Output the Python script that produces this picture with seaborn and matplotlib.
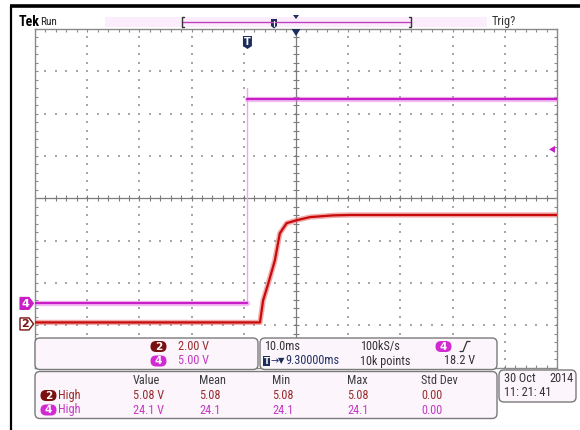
import numpy as np
import pandas as pd
import matplotlib
matplotlib.use("Agg")
import matplotlib.pyplot as plt
import matplotlib.patheffects as pe
from matplotlib.patches import FancyBboxPatch, Polygon, Rectangle
import seaborn as sns

# ---------------- acquisition settings ----------------
time_per_div = 10.0        # ms / div
trigger_delay = 9.30       # ms from trigger to screen centre
ch2_scale = 2.00           # V / div
ch4_scale = 5.00           # V / div
ch2_ground_div = -2.935    # CH2 ground reference, divisions from centre
ch4_ground_div = -2.485    # CH4 ground reference, divisions from centre
trigger_level = 18.2       # V, rising edge on CH4
sample_rate = "100kS/s"
record_length = "10k points"
date_text = "30 Oct"
year_text = "2014"
time_text = "11: 21: 41"

# ---------------- waveforms (ms from trigger, volts) ----------------
ch4_time = [-40.7, 0.0, 0.0, 59.3]
ch4_volts = [0.0, 0.0, 24.1, 24.1]
ch4_segment = [0, 0, 1, 1]
ch4_edge_peak = 25.4

ch2_time = [-40.7, 2.4, 3.0, 4.0, 5.25, 6.2, 7.5, 9.4, 12.0, 16.4, 19.6, 59.3]
ch2_volts = [0.0, 0.0, 1.04, 1.85, 2.93, 4.21, 4.69, 4.83, 4.98, 5.06, 5.08, 5.08]

# ---------------- measurements ----------------
meas_headers = ["Value", "Mean", "Min", "Max", "Std Dev"]
ch2_high = [5.08, 5.08, 5.08, 5.08, 0.00]
ch4_high = [24.1, 24.1, 24.1, 24.1, 0.00]

# ---------------- colours ----------------
MAGENTA = "#c81ec8"
MAGENTA_LIGHT = "#e67ae6"
RED = "#c80a0a"
RED_LIGHT = "#e45a5a"
MAROON = "#7a1010"
NAVY = "#1c2d5e"
GRID = "#a8a8a8"
FRAME = "#8a8a8a"
PANEL = "#fcf5fc"

sns.set_theme(style="white")
FONTS = ["Liberation Sans Narrow", "Roboto Condensed", "Liberation Sans", "DejaVu Sans"]
plt.rcParams["font.family"] = FONTS

W, H = 580, 430
fig = plt.figure(figsize=(W / 100, H / 100), dpi=100)
fig.patch.set_facecolor("white")

# graticule placement (pixels)
GX0, GX1, GY0, GY1 = 35, 557, 29, 367.5
ax = fig.add_axes([GX0 / W, 1 - GY1 / H, (GX1 - GX0) / W, (GY1 - GY0) / H])
t_lo = trigger_delay - 5 * time_per_div
t_hi = trigger_delay + 5 * time_per_div
ax.set_xlim(t_lo, t_hi)
ax.set_ylim(-4, 4)
ax.set_xticks([])
ax.set_yticks([])
ax.set_facecolor("white")
for s in ax.spines.values():
    s.set_color(FRAME)
    s.set_linewidth(1.0)

px_x = (GX1 - GX0) / 10.0      # pixels per horizontal division
px_y = (GY1 - GY0) / 8.0       # pixels per vertical division
tick_t = 3.0 / px_x * time_per_div
tick_v = 3.0 / px_y

minor_t = t_lo + np.arange(0, 51) * time_per_div / 5
minor_v = -4 + np.arange(0, 41) / 5
major_t = t_lo + np.arange(1, 10) * time_per_div
major_v = np.arange(-3, 4)

# dotted division lines
for mt in major_t:
    if abs(mt - trigger_delay) > 1e-6:
        ax.scatter(np.full(minor_v.size, mt), minor_v, s=0.7, marker="s",
                   color=GRID, linewidths=0, zorder=1)
for mv in major_v:
    if mv != 0:
        ax.scatter(minor_t, np.full(minor_t.size, mv), s=0.7, marker="s",
                   color=GRID, linewidths=0, zorder=1)

# centre cross with minor ticks
ax.axvline(trigger_delay, color="#7c7c7c", lw=0.9, zorder=1)
ax.axhline(0, color="#7c7c7c", lw=0.9, zorder=1)
ax.vlines(minor_t, -tick_v, tick_v, color="#7c7c7c", lw=0.8, zorder=1)
ax.hlines(minor_v, trigger_delay - tick_t, trigger_delay + tick_t,
          color="#7c7c7c", lw=0.8, zorder=1)
# edge ticks
ax.vlines(minor_t, 4 - tick_v, 4, color=FRAME, lw=0.8, zorder=1)
ax.vlines(minor_t, -4, -4 + tick_v, color=FRAME, lw=0.8, zorder=1)
ax.hlines(minor_v, t_lo, t_lo + tick_t, color=FRAME, lw=0.8, zorder=1)
ax.hlines(minor_v, t_hi - tick_t, t_hi, color=FRAME, lw=0.8, zorder=1)

# ---------------- traces ----------------
df4 = pd.DataFrame({"t": ch4_time, "v": ch4_volts, "seg": ch4_segment})
df4["div"] = df4["v"] / ch4_scale + ch4_ground_div
df2 = pd.DataFrame({"t": ch2_time, "v": ch2_volts})
df2["div"] = df2["v"] / ch2_scale + ch2_ground_div

# CH4 edge drawn faint, as the scope renders the fast transition
ax.plot([0.0, 0.0],
        [ch4_ground_div, ch4_edge_peak / ch4_scale + ch4_ground_div],
        color="#f2a6f2", lw=1.0, zorder=2)

sns.lineplot(data=df4, x="t", y="div", units="seg", estimator=None, sort=False,
             color=MAGENTA, lw=1.6, ax=ax, zorder=3,
             path_effects=[pe.Stroke(linewidth=3.8, foreground=MAGENTA_LIGHT, alpha=0.5),
                           pe.Normal()])
sns.lineplot(data=df2, x="t", y="div", estimator=None, sort=False,
             color=RED, lw=1.6, ax=ax, zorder=3,
             path_effects=[pe.Stroke(linewidth=3.8, foreground=RED_LIGHT, alpha=0.5),
                           pe.Normal()])
ax.set_xlabel("")
ax.set_ylabel("")
if ax.get_legend() is not None:
    ax.get_legend().remove()

# ---------------- overlay in pixel coordinates ----------------
ov = fig.add_axes([0, 0, 1, 1], zorder=5)
ov.set_xlim(0, W)
ov.set_ylim(H, 0)
ov.axis("off")
ov.patch.set_alpha(0)

cy = (GY0 + GY1) / 2
def div_to_py(d):
    return cy - d * px_y

def t_to_px(t):
    return GX0 + (t - t_lo) / time_per_div * px_x

# outer bezel
ov.plot([10, W], [6, 6], color="black", lw=2.6, solid_capstyle="butt")
ov.plot([11, 11], [6, H], color="black", lw=1.6, solid_capstyle="butt")

# header
ov.text(19, 22.5, "Tek", fontsize=10, fontweight="bold", color="black",
        va="center", ha="left")
ov.text(40.5, 22, "Run", fontsize=8, color="#222222", va="center", ha="left")
ov.text(492, 21.5, "Trig?", fontsize=8.8, color="#333333", va="center", ha="left")

# record bar
ov.add_patch(Rectangle((105, 16.5), 382, 10, facecolor="#fbedfb", edgecolor="none"))
ov.plot([182, 411], [22, 22], color="#c040c0", lw=1.0)
for bx, d in ((182, 1), (411, -1)):
    ov.plot([bx + 2 * d, bx, bx, bx + 2 * d], [17, 17, 27, 27],
            color="#333333", lw=1.0)
ov.add_patch(Polygon([[271, 19], [277, 19], [277, 26], [274, 28.5], [271, 26]],
                     closed=True, facecolor=NAVY, edgecolor="none"))
ov.plot([274, 274], [20.5, 26], color="white", lw=0.8)
ov.add_patch(Polygon([[293, 15], [299, 15], [296, 19]], closed=True,
                     facecolor=NAVY, edgecolor="none"))

# centre and trigger position markers
cx = t_to_px(trigger_delay)
ov.add_patch(Polygon([[cx - 4.5, 29], [cx + 4.5, 29], [cx, 36]], closed=True,
                     facecolor=NAVY, edgecolor="none"))
tx = t_to_px(0.0)
ov.add_patch(Polygon([[tx - 4.5, 36], [tx + 4.5, 36], [tx + 4.5, 46],
                      [tx, 49], [tx - 4.5, 46]], closed=True,
                     facecolor=NAVY, edgecolor="none"))
ov.text(tx, 42, "T", fontsize=7, fontweight="bold", color="white",
        ha="center", va="center", family="DejaVu Sans")

# trigger level arrow
ty = div_to_py(trigger_level / ch4_scale + ch4_ground_div)
ov.add_patch(Polygon([[549, ty], [555, ty - 3.5], [555, ty + 3.5]], closed=True,
                     facecolor=MAGENTA, edgecolor="none"))

# ground reference markers
y4 = div_to_py(ch4_ground_div)
ov.add_patch(Polygon([[20, y4 - 6], [29, y4 - 6], [33.5, y4], [29, y4 + 6],
                      [20, y4 + 6]], closed=True, facecolor=MAGENTA,
                     edgecolor=MAGENTA, lw=0.8))
ov.text(25, y4 + 0.3, "4", fontsize=8, fontweight="bold", color="white",
        ha="center", va="center", family="DejaVu Sans")
y2 = div_to_py(ch2_ground_div) + 1.5
ov.add_patch(Polygon([[20, y2 - 6], [29, y2 - 6], [33.5, y2], [29, y2 + 6],
                      [20, y2 + 6]], closed=True, facecolor="white",
                     edgecolor=MAROON, lw=1.0))
ov.text(25, y2 + 0.3, "2", fontsize=8, fontweight="bold", color=MAROON,
        ha="center", va="center", family="DejaVu Sans")

# ---------------- readout panels ----------------
def panel(x0, y0, x1, y1):
    ov.add_patch(FancyBboxPatch((x0, y0), x1 - x0, y1 - y0,
                                boxstyle="round,pad=0,rounding_size=5",
                                facecolor=PANEL, edgecolor="#7a7a7a", lw=1.0))

def badge(x, y, label, color):
    ov.add_patch(FancyBboxPatch((x - 8, y - 5.5), 16, 11,
                                boxstyle="round,pad=0,rounding_size=5.5",
                                facecolor=color, edgecolor="none"))
    ov.text(x, y + 0.3, label, fontsize=7.5, fontweight="bold", color="white",
            ha="center", va="center", family="DejaVu Sans")

def txt(x, y, s, color="#333333", ha="left", size=8.8, **kw):
    ov.text(x, y, s, fontsize=size, color=color, ha=ha, va="center", **kw)

panel(35, 338, 258, 369.5)
panel(260, 338, 497, 369.5)
panel(35, 371.5, 497, 418.5)
panel(499, 370, 576, 402)

C2 = "#9a2c2c"
C4 = "#c43ac4"

# vertical settings
badge(158.5, 346.5, "2", MAROON)
txt(178, 346.5, f"{ch2_scale:.2f} V", C2)
badge(158.5, 361, "4", "#d22ad2")
txt(178, 361, f"{ch4_scale:.2f} V", C4)

# horizontal / trigger settings
txt(264, 346.5, f"{time_per_div:.1f}ms")
txt(360, 346.5, sample_rate)
badge(443.5, 346.5, "4", "#d22ad2")
ov.plot([460, 463, 467, 470], [351.5, 351.5, 341.5, 341.5], color="#333333", lw=0.9)
ov.add_patch(Rectangle((263, 356), 7, 10, facecolor=NAVY, edgecolor="none"))
ov.text(266.5, 361.3, "T", fontsize=6, fontweight="bold", color="white",
        ha="center", va="center", family="DejaVu Sans")
txt(270.5, 361, "\u2192", NAVY, family="DejaVu Sans", size=7)
txt(278, 361, "\u25bc", NAVY, family="DejaVu Sans", size=6)
txt(285, 361, f"{trigger_delay:.5f}ms", "#223366")
txt(360, 361, record_length)
txt(475, 361, f"{trigger_level:.1f} V", ha="right")

# measurement table
col_x = [133, 199, 272, 347, 421]
for x, h in zip(col_x, meas_headers):
    txt(x, 380, h, "#3c3c3c")
badge(48.5, 395.5, "2", MAROON)
txt(58, 395.5, "High", C2)
badge(48.5, 410, "4", "#d22ad2")
txt(58, 410, "High", C4)
for i, (x, v2, v4) in enumerate(zip(col_x, ch2_high, ch4_high)):
    unit = " V" if i == 0 else ""
    s2 = f"{v2:.2f}{unit}"
    s4 = f"{v4:.1f}{unit}" if i < 4 else f"{v4:.2f}"
    txt(x, 395.5, s2, C2)
    txt(x, 410, s4, C4)

# date / time
txt(504, 378, date_text)
txt(574, 378, year_text, ha="right")
txt(504, 393, time_text)

fig.savefig("out.png", dpi=100)
